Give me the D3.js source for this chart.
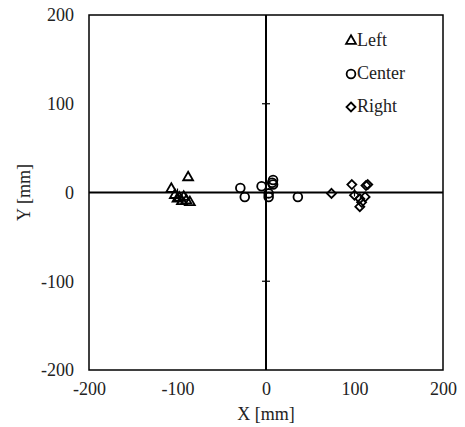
<!DOCTYPE html>
<html>
<head>
<meta charset="utf-8">
<script src="https://cdn.jsdelivr.net/npm/d3@7"></script>
<style>
  body { margin: 0; background: #fff; }
  svg text { font-family: "Times New Roman", "Liberation Serif", "DejaVu Serif", serif !important; }
</style>
</head>
<body>
<svg id="chart" width="465" height="427"></svg>
<script>
// values, in mm
var leftX = [-88, -107, -103, -98, -93, -90, -95, -86, -100];
var leftY = [17, 4, -3, -6, -5, -9, -10, -11, -7];
var centerX = [-29, -24, -5, 8, 7, 8, 3, 3, 36];
var centerY = [5, -5, 7, 14, 11, 9, -1, -5, -5];
var rightX = [74, 97, 113, 115, 100, 106, 108, 112, 106];
var rightY = [-1, 9, 8, 9, -3, -7, -11, -5, -16];
var ticks = [-200, -100, 0, 100, 200];
var legendNames = ['Left', 'Center', 'Right'];

var svg = d3.select('#chart');
var x = d3.scaleLinear().domain([-200, 200]).range([89, 443]);
var y = d3.scaleLinear().domain([-200, 200]).range([370, 15]);
var fmt = function(d) { return String(d); };

// plot frame
svg.append('rect')
    .attr('x', x(-200)).attr('y', y(200))
    .attr('width', x(200) - x(-200)).attr('height', y(-200) - y(200))
    .attr('fill', 'none').attr('stroke', '#000').attr('stroke-width', 1.5);

// axes crossing at zero
svg.append('line')
    .attr('x1', x(-200)).attr('x2', x(200))
    .attr('y1', y(0)).attr('y2', y(0))
    .attr('stroke', '#000').attr('stroke-width', 2);
svg.append('line')
    .attr('x1', x(0)).attr('x2', x(0))
    .attr('y1', y(200)).attr('y2', y(-200))
    .attr('stroke', '#000').attr('stroke-width', 2);

var inner = [-100, 100];
svg.selectAll('.xt').data(inner).enter().append('line')
    .attr('x1', function(d) { return x(d); }).attr('x2', function(d) { return x(d); })
    .attr('y1', y(0) - 4).attr('y2', y(0) + 4)
    .attr('stroke', '#000').attr('stroke-width', 1.2);
svg.selectAll('.yt').data(inner).enter().append('line')
    .attr('y1', function(d) { return y(d); }).attr('y2', function(d) { return y(d); })
    .attr('x1', x(0) - 4).attr('x2', x(0) + 4)
    .attr('stroke', '#000').attr('stroke-width', 1.2);

// tick labels on the frame
var xAxis = svg.append('g')
    .attr('transform', 'translate(0,' + y(-200) + ')')
    .call(d3.axisBottom(x).tickValues(ticks).tickFormat(fmt).tickSize(0).tickPadding(12));
var yAxis = svg.append('g')
    .attr('transform', 'translate(' + x(-200) + ',0)')
    .call(d3.axisLeft(y).tickValues(ticks).tickFormat(fmt).tickSize(0).tickPadding(15));
[xAxis, yAxis].forEach(function(g) {
  g.attr('font-family', null).attr('font-size', null);
  g.select('.domain').remove();
  g.selectAll('text')
      .style('font-size', '18px')
      .attr('fill', '#222');
});

svg.append('text')
    .attr('x', x(0)).attr('y', 420)
    .attr('text-anchor', 'middle')
    .style('font-size', '18px').attr('fill', '#222')
    .text('X [mm]');
svg.append('text')
    .attr('transform', 'translate(30,' + y(0) + ') rotate(-90)')
    .attr('text-anchor', 'middle')
    .style('font-size', '18px').attr('fill', '#222')
    .text('Y [mm]');

// markers
var symTri = d3.symbol().type(d3.symbolTriangle).size(42);
var symCir = d3.symbol().type(d3.symbolCircle).size(60);
var symDia = function() { return 'M0,-4.5L4.5,0L0,4.5L-4.5,0Z'; };

function drawSeries(xs, ys, sym) {
  svg.append('g').selectAll('path')
      .data(xs.map(function(v, i) { return [v, ys[i]]; }))
      .enter().append('path')
      .attr('d', sym)
      .attr('transform', function(d) { return 'translate(' + x(d[0]) + ',' + y(d[1]) + ')'; })
      .attr('fill', 'none')
      .attr('stroke', '#000')
      .attr('stroke-width', 1.8);
}
drawSeries(leftX, leftY, symTri);
drawSeries(centerX, centerY, symCir);
drawSeries(rightX, rightY, symDia);

// legend
var legSyms = [symTri, symCir, symDia];
var leg = svg.append('g').selectAll('g')
    .data(legendNames)
    .enter().append('g')
    .attr('transform', function(d, i) { return 'translate(351,' + (41 + i * 33) + ')'; });
leg.append('path')
    .attr('d', function(d, i) { return legSyms[i](); })
    .attr('fill', 'none').attr('stroke', '#000').attr('stroke-width', 1.8);
leg.append('text')
    .attr('x', 6).attr('y', 5)
    .style('font-size', '18px').attr('fill', '#222')
    .text(function(d) { return d; });
</script>
</body>
</html>
